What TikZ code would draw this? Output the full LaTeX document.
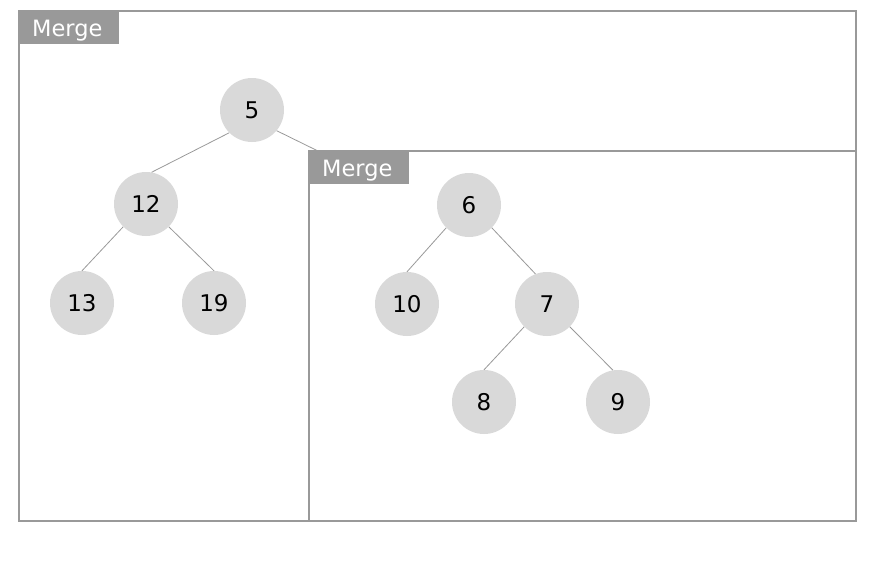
\documentclass[tikz,border=0pt]{standalone}
\usepackage{fontspec}
\setmainfont{DejaVu Sans}
\begin{document}
\begin{tikzpicture}[x=1pt,y=-1pt,
  frame/.style={draw=boxgray,line width=1.8pt},
  tag/.style={fill=boxgray,text=white,inner xsep=13pt,inner ysep=0pt,text width=74pt,align=left,
    text height=25pt,text depth=8pt,anchor=north west,font=\fontsize{22.5}{23}\selectfont},
  nd/.style={circle,fill=nodegray,minimum size=64pt,inner sep=0pt,font=\fontsize{23}{24}\selectfont},
  edge/.style={draw=boxgray,line width=0.8pt}]
\definecolor{boxgray}{HTML}{999999}
\definecolor{nodegray}{HTML}{D9D9D9}
\useasboundingbox (0,0) rectangle (876,565);
% frames
\draw[frame] (19,11) rectangle (856,521);
\node[tag] (t1) at (19,11) {Merge};
% nodes
\node[nd] (n5) at (252,110) {5};
\node[nd] (n12) at (146,204) {12};
\node[nd] (n13) at (82,303) {13};
\node[nd] (n19) at (214,303) {19};
\coordinate (c) at (318,151);
\draw[edge] (n5.south west) -- (n12.80);
\draw[edge] (n12.south west) -- (n13.north);
\draw[edge] (n12.south east) -- (n19.north);
\draw[edge] (n5.320) -- (c);
\fill[white] (309,151) rectangle (856,521);
\draw[frame] (309,151) rectangle (856,521);
\node[tag] (t2) at (309,151) {Merge};
\node[nd] (n6) at (469,205) {6};
\node[nd] (n10) at (407,304) {10};
\node[nd] (n7) at (547,304) {7};
\node[nd] (n8) at (484,402) {8};
\node[nd] (n9) at (618,402) {9};
\draw[edge] (n6.south west) -- (n10.north);
\draw[edge] (n6.south east) -- (n7.111);
\draw[edge] (n7.south west) -- (n8.north);
\draw[edge] (n7.south east) -- (n9.99);
\end{tikzpicture}
\end{document}
